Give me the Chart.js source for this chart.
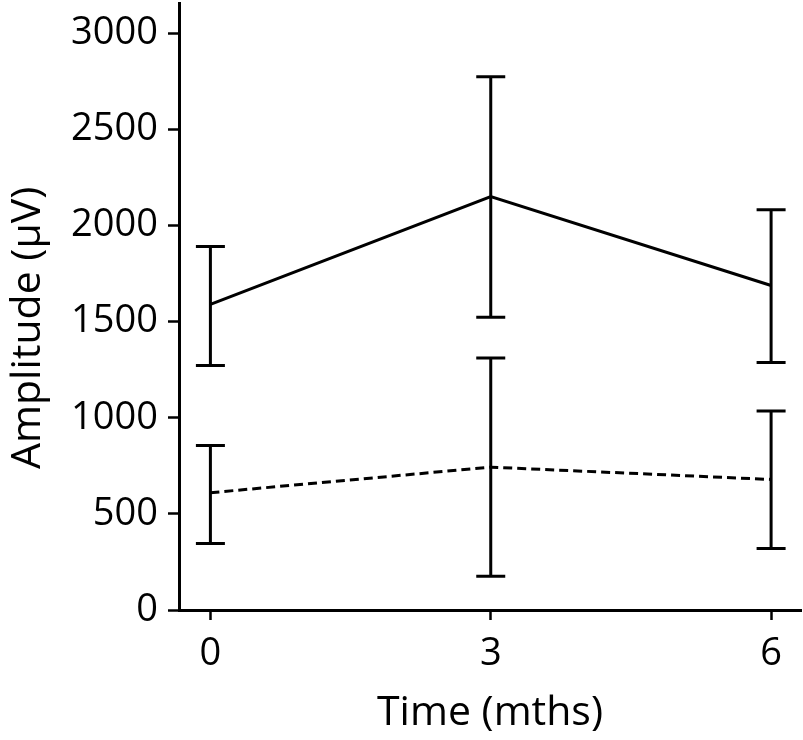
<!DOCTYPE html>
<html>
<head>
<meta charset="utf-8">
<script src="https://cdn.jsdelivr.net/npm/chart.js@4/dist/chart.umd.min.js"></script>
<style>
  html, body { margin: 0; padding: 0; background: #fff; }
  #wrap { width: 803px; height: 740px; }
</style>
</head>
<body>
<div id="wrap"><canvas id="c" width="803" height="740"></canvas></div>
<script>
// ---- data ----
const months = [0, 3, 6];
const xTicks = [0, 3, 6];
const yTicks = [0, 500, 1000, 1500, 2000, 2500, 3000];

const solidMean  = [1590, 2150, 1688];
const solidUpper = [1890, 2773, 2082];
const solidLower = [1271, 1522, 1287];

const dashedMean  = [610, 743, 679];
const dashedUpper = [855, 1311, 1035];
const dashedLower = [346, 175, 320];

const xTitle = 'Time (mths)';
const yTitle = 'Amplitude (μV)';

const FONT = '"Open Sans", "Liberation Sans", sans-serif';

function pts(xs, ys) { return xs.map((x, i) => ({ x: x, y: ys[i] })); }

const errorBars = {
  id: 'errorBars',
  afterDatasetsDraw(chart) {
    const ctx = chart.ctx;
    const xs = chart.scales.x, ys = chart.scales.y;
    const capHalf = 14.5;
    chart.data.datasets.forEach(ds => {
      if (!ds.errUpper) return;
      ctx.save();
      ctx.strokeStyle = '#000';
      ctx.lineWidth = 3;
      ctx.setLineDash([]);
      ctx.lineCap = 'butt';
      ds.data.forEach((p, i) => {
        const px = xs.getPixelForValue(p.x);
        const top = ys.getPixelForValue(ds.errUpper[i]);
        const bot = ys.getPixelForValue(ds.errLower[i]);
        ctx.beginPath();
        ctx.moveTo(px, top); ctx.lineTo(px, bot);
        ctx.moveTo(px - capHalf, top); ctx.lineTo(px + capHalf, top);
        ctx.moveTo(px - capHalf, bot); ctx.lineTo(px + capHalf, bot);
        ctx.stroke();
      });
      ctx.restore();
    });
  }
};

new Chart(document.getElementById('c'), {
  type: 'line',
  data: {
    datasets: [
      {
        label: 'solid',
        data: pts(months, solidMean),
        errUpper: solidUpper, errLower: solidLower,
        borderColor: '#000', borderWidth: 3,
        pointRadius: 0, fill: false, tension: 0
      },
      {
        label: 'dashed',
        data: pts(months, dashedMean),
        errUpper: dashedUpper, errLower: dashedLower,
        borderColor: '#000', borderWidth: 3, borderDash: [9, 5],
        pointRadius: 0, fill: false, tension: 0
      }
    ]
  },
  options: {
    responsive: false,
    animation: false,
    events: [],
    layout: { padding: { top: 3, right: 2, left: 0, bottom: 0 } },
    plugins: { legend: { display: false }, tooltip: { enabled: false } },
    scales: {
      x: {
        type: 'linear',
        min: -0.336, max: 6.32,
        afterBuildTicks: s => { s.ticks = xTicks.map(v => ({ value: v })); },
        afterFit: s => { s.height = 130; s.paddingLeft = 0; s.paddingRight = 0; },
        grid: { drawOnChartArea: false, drawTicks: true, tickLength: 10, tickWidth: 2.5, tickColor: '#000' },
        border: { display: true, color: '#000', width: 3 },
        ticks: {
          autoSkip: false, maxRotation: 0, padding: 11, color: '#000',
          font: { family: FONT, size: 38 },
          callback: v => String(v)
        },
        title: {
          display: true, text: xTitle, color: '#000',
          font: { family: FONT, size: 41 },
          padding: { top: 0, bottom: 2 }
        }
      },
      y: {
        type: 'linear',
        min: 0, max: 3157,
        afterBuildTicks: s => { s.ticks = yTicks.map(v => ({ value: v })); },
        afterFit: s => { s.width = 179; s.paddingTop = 0; s.paddingBottom = 0; },
        grid: { drawOnChartArea: false, drawTicks: true, tickLength: 11, tickWidth: 2.5, tickColor: '#000' },
        border: { display: true, color: '#000', width: 3 },
        ticks: {
          autoSkip: false, padding: 10, color: '#000',
          font: { family: FONT, size: 38 },
          callback: v => String(v)
        },
        title: {
          display: true, text: yTitle + '    ', color: '#000',
          font: { family: FONT, size: 41 },
          padding: { top: 4, bottom: 0 }
        }
      }
    }
  },
  plugins: [errorBars]
});
</script>
</body>
</html>
